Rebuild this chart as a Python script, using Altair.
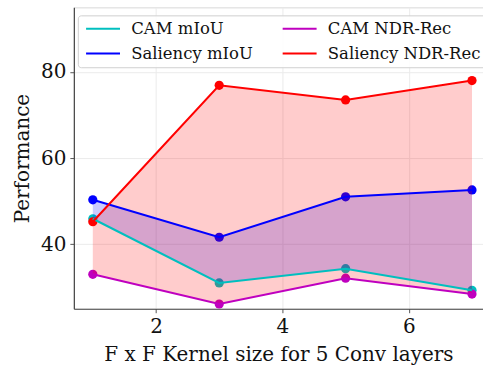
import altair as alt
import pandas as pd

# Kernel sizes (F x F) used for the 5 conv layers
kernel_sizes = [1, 3, 5, 7]

# Measured scores per kernel size
cam_miou = [45.9, 31.0, 34.3, 29.3]
saliency_miou = [50.3, 41.6, 51.0, 52.6]
cam_ndr_rec = [33.0, 26.1, 32.1, 28.4]
saliency_ndr_rec = [45.2, 76.9, 73.5, 78.0]

series_names = ["CAM mIoU", "Saliency mIoU", "CAM NDR-Rec", "Saliency NDR-Rec"]
series_colors = ["#00BFBF", "#0000FF", "#BF00BF", "#FF0000"]

long_rows = []
for name, vals in [("CAM mIoU", cam_miou), ("Saliency mIoU", saliency_miou),
                   ("CAM NDR-Rec", cam_ndr_rec), ("Saliency NDR-Rec", saliency_ndr_rec)]:
    for k, v in zip(kernel_sizes, vals):
        long_rows.append({"k": k, "value": v, "series": name})
long_df = pd.DataFrame(long_rows)

band_df = pd.DataFrame({
    "k": kernel_sizes,
    "cam_miou": cam_miou,
    "sal_miou": saliency_miou,
    "cam_ndr": cam_ndr_rec,
    "sal_ndr": saliency_ndr_rec,
})

FONT = "DejaVu Serif"
x_scale = alt.Scale(domain=[0.7, 7.174], nice=False, zero=False)
y_scale = alt.Scale(domain=[25, 95], nice=False, zero=False)
color_scale = alt.Scale(domain=series_names, range=series_colors)

x_axis = alt.Axis(values=[2, 4, 6], title="F x F Kernel size for 5 Conv layers", format="d")
y_axis = alt.Axis(values=[40, 60, 80], title="Performance", format="d")

# Horizontal line-sample symbol, wider than the nominal symbol size
legend = alt.Legend(
    title=None, orient="none", legendX=4, legendY=8, columns=2,
    symbolType="M-1,0H5.8", symbolSize=100, symbolStrokeWidth=2,
    labelFont=FONT, labelFontSize=16.5, labelColor="#111111",
    labelOffset=32, columnPadding=25, rowPadding=8,
    padding=5, fillColor="rgba(255,255,255,0.85)",
    strokeColor="#d0d0d0", cornerRadius=3,
)

points = alt.Chart(long_df).mark_circle(size=85, opacity=1).encode(
    x=alt.X("k:Q", scale=x_scale, axis=x_axis),
    y=alt.Y("value:Q", scale=y_scale, axis=y_axis),
    color=alt.Color("series:N", scale=color_scale, legend=legend),
)

miou_band = alt.Chart(band_df).mark_area(color="#0000FF", opacity=0.2).encode(
    x=alt.X("k:Q", scale=x_scale),
    y=alt.Y("cam_miou:Q", scale=y_scale),
    y2="sal_miou:Q",
)

ndr_band = alt.Chart(band_df).mark_area(color="#FF0000", opacity=0.2).encode(
    x=alt.X("k:Q", scale=x_scale),
    y=alt.Y("cam_ndr:Q", scale=y_scale),
    y2="sal_ndr:Q",
)

lines = alt.Chart(long_df).mark_line(strokeWidth=2).encode(
    x=alt.X("k:Q", scale=x_scale),
    y=alt.Y("value:Q", scale=y_scale),
    color=alt.Color("series:N", scale=color_scale, legend=legend),
    detail="series:N",
)

chart = alt.layer(points, miou_band, ndr_band, lines).properties(
    width=410, height=302,
    autosize=alt.AutoSizeParams(type="none"),
    padding={"left": 74, "top": 7, "right": 0, "bottom": 58},
).configure_view(
    stroke="#d8d8d8", strokeWidth=1,
).configure_axis(
    labelFont=FONT, labelFontSize=20, labelColor="#111111",
    titleFont=FONT, titleFontSize=20, titleFontWeight="normal", titleColor="#111111",
    grid=True, gridColor="#ebebeb", gridWidth=1,
    domainColor="#444444", domainWidth=1.2,
    tickColor="#555555", tickSize=4, labelPadding=4,
).configure_axisX(
    titlePadding=8,
).configure_axisY(
    titlePadding=8,
)

chart.save("out.html", embed_options={"renderer": "svg", "actions": False})
